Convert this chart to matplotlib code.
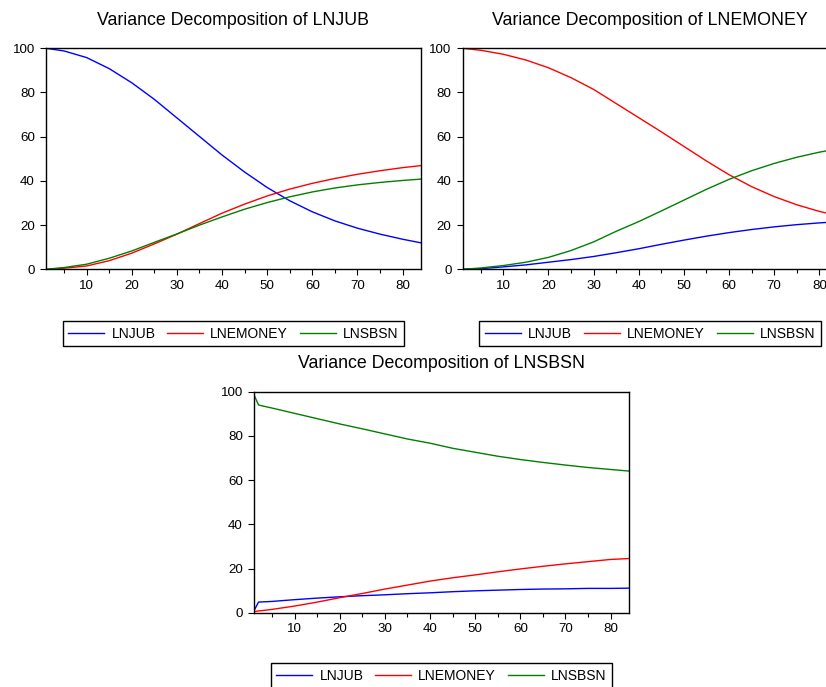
import numpy as np
import matplotlib.pyplot as plt
from matplotlib.ticker import MultipleLocator

plt.rcParams['font.family'] = ['Liberation Sans', 'DejaVu Sans']

# periods (every 5 steps, plus the ends)
periods = [1, 5, 10, 15, 20, 25, 30, 35, 40, 45, 50, 55, 60, 65, 70, 75, 80, 84]
# LNSBSN panel has a jump at period 2, so it gets its own grid
periods_sbsn = [1, 2, 3, 5, 10, 15, 20, 25, 30, 35, 40, 45, 50, 55, 60, 65, 70, 75, 80, 84]

# Variance Decomposition of LNJUB
jub_lnjub = [100, 98.8, 95.8, 90.8, 84.4, 76.9, 68.5, 60.1, 51.7, 44.0, 37.0, 31.0, 26.0, 21.9, 18.6, 15.9, 13.6, 12.0]
jub_lnemoney = [0, 0.5, 1.5, 3.9, 7.3, 11.5, 15.9, 20.7, 25.4, 29.5, 33.2, 36.3, 38.9, 41.1, 43.0, 44.6, 46.0, 46.9]
jub_lnsbsn = [0, 0.8, 2.3, 5.0, 8.3, 12.2, 16.0, 20.0, 23.7, 27.2, 30.2, 32.8, 35.0, 36.8, 38.2, 39.3, 40.2, 40.8]

# Variance Decomposition of LNEMONEY
emo_lnjub = [0, 0.3, 1.1, 2.0, 3.2, 4.4, 5.8, 7.5, 9.3, 11.3, 13.2, 15.0, 16.6, 18.0, 19.2, 20.2, 21.0, 21.5]
emo_lnemoney = [100, 99.1, 97.3, 94.7, 91.2, 86.7, 81.4, 75.0, 68.6, 62.2, 55.6, 49.0, 42.8, 37.4, 32.9, 29.2, 26.2, 24.3]
emo_lnsbsn = [0, 0.6, 1.7, 3.2, 5.4, 8.5, 12.4, 17.2, 21.6, 26.4, 31.3, 36.2, 40.7, 44.6, 47.9, 50.7, 53.0, 54.5]

# Variance Decomposition of LNSBSN
sbsn_lnjub = [0.9, 4.8, 4.9, 5.1, 5.9, 6.6, 7.2, 7.7, 8.1, 8.6, 9.0, 9.5, 9.9, 10.2, 10.5, 10.7, 10.8, 11.0, 11.0, 11.1]
sbsn_lnemoney = [0.5, 0.8, 1.0, 1.5, 3.0, 4.8, 6.8, 8.7, 10.7, 12.5, 14.3, 15.8, 17.1, 18.5, 19.8, 21.0, 22.1, 23.1, 24.1, 24.5]
sbsn_lnsbsn = [98.6, 94.0, 93.5, 92.6, 90.2, 87.8, 85.4, 83.2, 80.9, 78.6, 76.7, 74.4, 72.6, 70.8, 69.3, 68.0, 66.8, 65.7, 64.8, 64.1]

names = ["LNJUB", "LNEMONEY", "LNSBSN"]
colors = ["#0000ff", "#ff0000", "#008000"]

W, H = 826, 687
fig = plt.figure(figsize=(W / 100, H / 100), dpi=100)


def make_panel(left, top, right, bottom, legend_top, title, x, series):
    ax = fig.add_axes([left / W, 1 - bottom / H, (right - left) / W, (bottom - top) / H])
    lines = []
    for ys, c, n in zip(series, colors, names):
        ln, = ax.plot(x, ys, color=c, lw=1.0, label=n)
        lines.append(ln)
    ax.set_xlim(1, 84)
    ax.set_ylim(0, 100)
    ax.set_yticks([0, 20, 40, 60, 80, 100])
    ax.xaxis.set_major_locator(MultipleLocator(10))
    ax.xaxis.set_minor_locator(MultipleLocator(5))
    ax.tick_params(axis='both', which='major', direction='out', length=4, width=0.8,
                   labelsize=9.6, colors='black')
    ax.tick_params(axis='x', which='major', pad=3.5)
    ax.tick_params(axis='y', which='major', pad=4)
    ax.tick_params(axis='x', which='minor', direction='out', length=3, width=0.8)
    for s in ax.spines.values():
        s.set_linewidth(1.0)
        s.set_color('black')
    ax.set_title(title, fontsize=12.8, pad=17)
    cx = (left + right) / 2
    ax.legend(handles=lines, loc='upper center', bbox_to_anchor=(cx / W, 1 - legend_top / H),
              bbox_transform=fig.transFigure, ncol=3, fontsize=10, frameon=True,
              fancybox=False, edgecolor='black', framealpha=1, handlelength=2.6,
              handletextpad=0.5, columnspacing=0.85, borderpad=0.42, borderaxespad=0)
    leg = ax.get_legend()
    leg.get_frame().set_linewidth(1.0)
    return ax


make_panel(46, 48.3, 420.7, 269.3, 320.7, "Variance Decomposition of LNJUB",
           periods, [jub_lnjub, jub_lnemoney, jub_lnsbsn])
make_panel(462.7, 48.3, 837.4, 269.3, 320.7, "Variance Decomposition of LNEMONEY",
           periods, [emo_lnjub, emo_lnemoney, emo_lnsbsn])
make_panel(254, 391.7, 628.7, 612.7, 663.3, "Variance Decomposition of LNSBSN",
           periods_sbsn, [sbsn_lnjub, sbsn_lnemoney, sbsn_lnsbsn])

fig.savefig("out.png", dpi=100)
